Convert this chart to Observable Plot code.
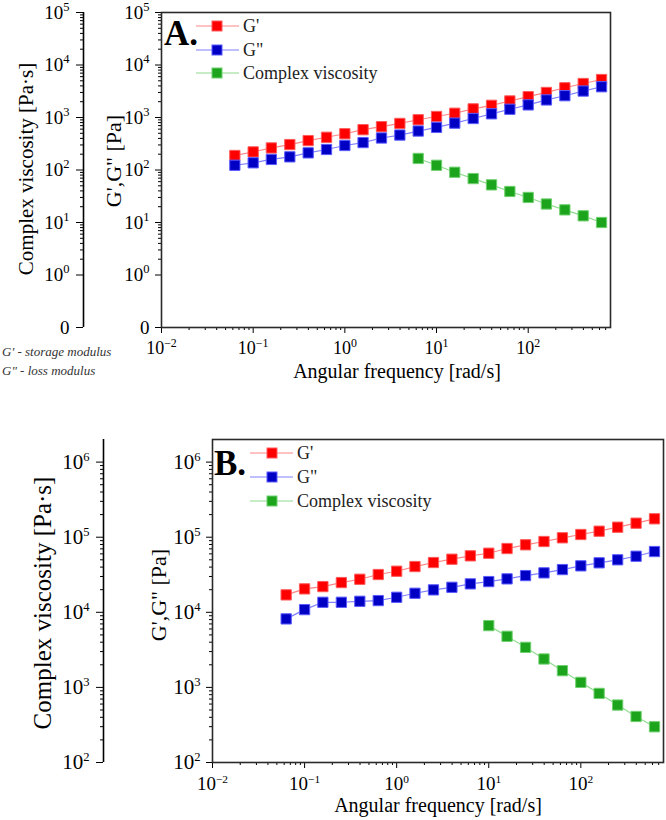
<!DOCTYPE html>
<html><head><meta charset="utf-8">
<script src="https://cdn.jsdelivr.net/npm/d3@7"></script>
<script src="https://cdn.jsdelivr.net/npm/@observablehq/plot@0.6"></script>
<style>
body{margin:0;background:#fff;}
#wrap{position:relative;width:666px;height:820px;font-family:"Liberation Serif","Times New Roman",serif;}
#wrap svg{position:absolute;left:0;overflow:visible;}
</style></head><body><div id="wrap"></div>
<script>
// ---------- data ----------
const freq = [0.0631,0.1,0.158,0.251,0.398,0.631,1,1.58,2.51,3.98,6.31,10,15.8,25.1,39.8,63.1,100,158,251,398,631];
const freqViscA = [6.31,10,15.8,25.1,39.8,63.1,100,158,251,398,631];
const freqViscB = [10,15.8,25.1,39.8,63.1,100,158,251,398,631];

const gPrimeA  = [189,221,263,305,363,420,490,586,668,771,906,1045,1205,1459,1706,2065,2490,3000,3680,4440,5290];
const gDoubleA = [123,137,159,178,212,246,293,333,407,463,552,648,780,957,1175,1435,1738,2160,2600,3190,3850];
const viscA    = [166,123,90.6,68.6,52.1,39.0,30.0,22.5,17.4,13.4,10.0];

const gPrimeB  = [17060,20500,22000,24900,27540,31840,35240,40660,46000,50930,56480,61200,70650,79200,87700,98200,108600,120200,135900,153700,175800];
const gDoubleB = [8170,10860,13600,13600,14020,14320,15850,17920,19890,21530,23900,25650,27870,30830,33500,37070,41550,45600,50000,55800,64440];
const viscB    = [6650,4790,3415,2390,1670,1167,832,582,410,299];

const seriesNames = ["G'", "G\"", "Complex viscosity"];
const xTicks  = [0.01,0.1,1,10,100];
const yTicksA = [0.1,1,10,100,1000,1e4,1e5];
const yTicksB = [1e2,1e3,1e4,1e5,1e6];
const xDomain = [0.01,790];
const yDomainA = [0.1,1e5];
const yDomainB = [100,2e6];

// ---------- styles ----------
const lineCol = ["#ff8585","#8080ff","#90dc90"];
const fillCol = ["#ff0000","#0000c4","#1ca41c"];
const edgeCol = ["#ff5a5a","#5c5cff","#6fd06f"];
const FONT = '"Liberation Serif","Times New Roman",serif';

const expo = v => String(Math.round(Math.log10(v)));
const pow10 = v => "10^" + expo(v);
const fmtA = v => v === yTicksA[0] ? "0" : pow10(v);

function minorTicks(lo, hi, minDecade) {
  const out = [];
  for (let e = Math.floor(Math.log10(lo)); e <= Math.ceil(Math.log10(hi)); e++) {
    if (minDecade !== undefined && e < minDecade) continue;
    for (let m = 2; m <= 9; m++) {
      const v = m * Math.pow(10, e);
      if (v > lo && v < hi) out.push(v);
    }
  }
  return out;
}

function rows(f, v) { return f.map((d, i) => ({f: d, v: v[i]})); }

function superscripts(svg, ratio) {
  d3.select(svg).selectAll("text").each(function () {
    const t = this.textContent;
    const m = /^10\^(-?\d+)$/.exec(t);
    if (!m) return;
    const sel = d3.select(this);
    sel.text(null);
    sel.append("tspan").text("10");
    sel.append("tspan").attr("font-size", ratio + "%").attr("dy", "-0.62em")
      .text(m[1].replace("-", "\u2212"));
  });
}

function panel(cfg) {
  const series = [rows(freq, cfg.gp), rows(freq, cfg.gpp), rows(cfg.vf, cfg.visc)];
  const dataMarks = [];
  series.forEach((s, i) => {
    dataMarks.push(Plot.line(s, {x: "f", y: "v", stroke: lineCol[i], strokeWidth: 1.2}));
  });
  series.forEach((s, i) => {
    dataMarks.push(Plot.dot(s, {x: "f", y: "v", symbol: "square", r: 5.8, fill: fillCol[i], stroke: edgeCol[i], strokeWidth: 1}));
  });
  const yMinor = minorTicks(cfg.yDomain[0], cfg.yDomain[1], cfg.minDecade);
  const xMinor = minorTicks(xDomain[0], xDomain[1]);
  const svg = Plot.plot({
    width: 666, height: cfg.height,
    marginLeft: cfg.ml, marginRight: cfg.mr, marginTop: cfg.mt, marginBottom: cfg.mb,
    x: {type: "log", domain: xDomain, label: null},
    y: {type: "log", domain: cfg.yDomain, label: null},
    style: {fontFamily: FONT, fontSize: "17px", color: "#000", background: "transparent"},
    marks: [
      Plot.axisX({ticks: xTicks, tickFormat: pow10, tickSize: 6, tickPadding: cfg.xPad, fontSize: cfg.xFont, label: null}),
      Plot.axisX({ticks: xMinor, tickFormat: () => "", tickSize: 3, label: null}),
      Plot.axisY({ticks: cfg.yTicks, tickFormat: cfg.fmt, tickSize: 6, tickPadding: 6, fontSize: cfg.yFont, label: null}),
      Plot.axisY({ticks: yMinor, tickFormat: () => "", tickSize: 3, label: null}),
      Plot.axisY({ticks: cfg.yTicks, tickFormat: cfg.fmt, tickSize: 7, tickPadding: 7, fontSize: cfg.yFont, label: null, dx: cfg.leftDx}),
      Plot.axisY({ticks: yMinor, tickFormat: () => "", tickSize: 3, label: null, dx: cfg.leftDx}),
      Plot.ruleX([xDomain[0]], {dx: cfg.leftDx, stroke: "#000", strokeWidth: 1.6}),
      Plot.frame({stroke: "#2a2a2a", strokeWidth: 1.6}),
      ...dataMarks
    ]
  });
  superscripts(svg, cfg.supRatio);
  svg.style.top = cfg.top + "px";
  const g = d3.select(svg).append("g").attr("font-family", FONT).attr("fill", "#000")
    .attr("text-anchor", "start");
  // axis titles
  g.append("text").attr("transform", `translate(${cfg.leftTitle[0]},${cfg.leftTitle[1]}) rotate(-90)`)
    .attr("text-anchor", "middle").attr("font-size", cfg.leftTitleSize).text("Complex viscosity [Pa\u00B7s]");
  g.append("text").attr("transform", `translate(${cfg.mainTitle[0]},${cfg.mainTitle[1]}) rotate(-90)`)
    .attr("text-anchor", "middle").attr("font-size", 22).text("G',G\" [Pa]");
  g.append("text").attr("x", cfg.xTitle[0]).attr("y", cfg.xTitle[1])
    .attr("text-anchor", "middle").attr("font-size", 20).text("Angular frequency [rad/s]");
  // panel letter
  g.append("text").attr("x", cfg.letter[0]).attr("y", cfg.letter[1]).attr("text-anchor", "start")
    .attr("font-size", 35).attr("font-weight", "bold").text(cfg.letterText);
  // legend
  seriesNames.forEach((name, i) => {
    const y = cfg.legY[i];
    g.append("line").attr("x1", cfg.legX[0]).attr("x2", cfg.legX[2]).attr("y1", y).attr("y2", y)
      .attr("stroke", lineCol[i]).attr("stroke-width", 1.2);
    g.append("rect").attr("x", cfg.legX[1] - 5).attr("y", y - 5).attr("width", 10).attr("height", 10)
      .attr("fill", fillCol[i]).attr("stroke", edgeCol[i]).attr("stroke-width", 1);
    g.append("text").attr("x", cfg.legX[3]).attr("y", y).attr("dy", "0.35em").attr("text-anchor", "start")
      .attr("font-size", 18).attr("fill", "#222").text(name);
  });
  return {svg, g};
}

const wrap = document.getElementById("wrap");

const A = panel({
  top: 0, height: 390, ml: 161, mr: 56, mt: 12, mb: 63,
  yDomain: yDomainA, yTicks: yTicksA, fmt: fmtA, minDecade: 0,
  gp: gPrimeA, gpp: gDoubleA, visc: viscA, vf: freqViscA,
  leftDx: -78, yFont: 19, xFont: 18, xPad: 8, supRatio: 66,
  leftTitle: [33, 169], leftTitleSize: 21,
  mainTitle: [121, 161], xTitle: [397, 378],
  letter: [164, 45], letterText: "A.",
  legY: [26, 50, 73], legX: [196, 217, 239, 243]
});
wrap.appendChild(A.svg);
A.g.append("text").attr("x", 2).attr("y", 356).attr("font-size", 13).attr("font-style", "italic")
  .attr("text-anchor", "start").attr("fill", "#333").text("G' - storage modulus");
A.g.append("text").attr("x", 2).attr("y", 375).attr("font-size", 13).attr("font-style", "italic")
  .attr("text-anchor", "start").attr("fill", "#333").text("G\" - loss modulus");

const B = panel({
  top: 430, height: 390, ml: 212, mr: 3, mt: 9, mb: 58,
  yDomain: yDomainB, yTicks: yTicksB, fmt: pow10,
  gp: gPrimeB, gpp: gDoubleB, visc: viscB, vf: freqViscB,
  leftDx: -109, yFont: 21, xFont: 19, xPad: 8, supRatio: 60,
  leftTitle: [51, 173], leftTitleSize: 25,
  mainTitle: [166, 165], xTitle: [438, 382],
  letter: [214, 45], letterText: "B.",
  legY: [23, 47, 71], legX: [250, 272, 293, 297]
});
wrap.appendChild(B.svg);
</script></body></html>
